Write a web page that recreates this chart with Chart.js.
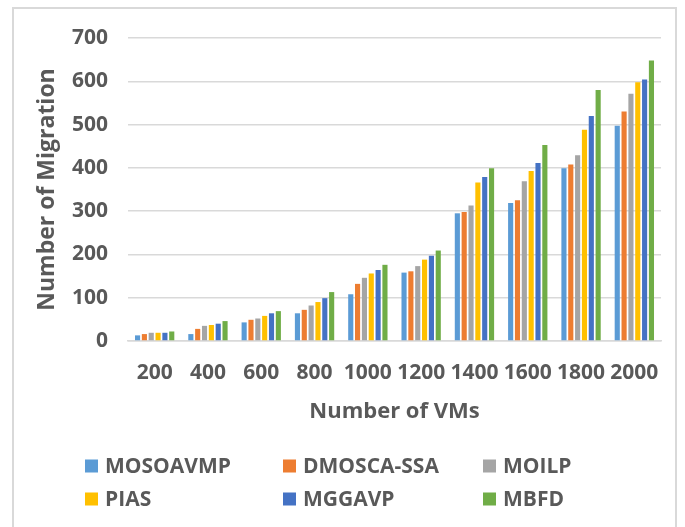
<!DOCTYPE html>
<html>
<head>
<meta charset="utf-8">
<script src="https://cdn.jsdelivr.net/npm/chart.js@4/dist/chart.umd.min.js"></script>
<style>
  html, body { margin: 0; padding: 0; background: #fff; overflow: hidden; }
  #wrap { position: relative; width: 685px; height: 527px; }
  #frame {
    position: absolute; left: 12px; top: 7px; width: 665px; height: 560px;
    border: 2px solid #d9d9d9; box-sizing: border-box;
  }
  #chart { position: absolute; left: 0; top: 0; }
</style>
</head>
<body>
<div id="wrap">
  <div id="frame"></div>
  <canvas id="chart" width="685" height="527"></canvas>
</div>
<script>
const vmCounts = ["200", "400", "600", "800", "1000", "1200", "1400", "1600", "1800", "2000"];

const mosoavmp  = [13, 16, 43, 64, 108, 158, 295, 319, 399, 497];
const dmoscaSsa = [16, 28, 49, 72, 132, 161, 298, 325, 408, 530];
const moilp     = [19, 35, 52, 82, 146, 173, 313, 369, 429, 571];
const pias      = [19, 37, 58, 90, 156, 188, 366, 393, 488, 598];
const mggavp    = [19, 40, 64, 99, 164, 197, 379, 411, 520, 604];
const mbfd      = [22, 46, 69, 113, 176, 209, 399, 453, 580, 648];

const seriesNames = ["MOSOAVMP", "DMOSCA-SSA", "MOILP", "PIAS", "MGGAVP", "MBFD"];
const seriesColors = ["#5B9BD5", "#ED7D31", "#A5A5A5", "#FFC000", "#4472C4", "#70AD47"];
const seriesValues = [mosoavmp, dmoscaSsa, moilp, pias, mggavp, mbfd];

const textColor = "#595959";
const fontFamily = "'Open Sans', 'Noto Sans', sans-serif";

// legend laid out as a 3-column grid below the axis title
const gridLegend = {
  id: "gridLegend",
  afterDraw(chart) {
    const ctx = chart.ctx;
    const cols = [85, 283, 483];
    const rows = [466, 499];
    ctx.save();
    ctx.font = "bold 21px " + fontFamily;
    ctx.textBaseline = "middle";
    ctx.textAlign = "left";
    chart.data.datasets.forEach((ds, i) => {
      const x = cols[i % 3];
      const y = rows[Math.floor(i / 3)];
      ctx.fillStyle = ds.backgroundColor;
      ctx.fillRect(x, y - 6.5, 13, 13);
      ctx.fillStyle = textColor;
      ctx.fillText(ds.label, x + 20, y + 1);
    });
    ctx.restore();
  }
};

new Chart(document.getElementById("chart"), {
  type: "bar",
  data: {
    labels: vmCounts,
    datasets: seriesNames.map((name, i) => ({
      label: name,
      data: seriesValues[i],
      backgroundColor: seriesColors[i],
      borderWidth: 0,
      categoryPercentage: 0.77,
      barPercentage: 0.75,
    })),
  },
  options: {
    responsive: false,
    animation: false,
    layout: { padding: { left: 34, top: 38, right: 24, bottom: 102 } },
    plugins: {
      legend: { display: false },
      tooltip: { enabled: false },
    },
    scales: {
      x: {
        grid: { display: false },
        border: { display: true, color: "#d9d9d9", width: 1.5 },
        ticks: {
          color: textColor,
          font: { family: fontFamily, size: 21, weight: "bold" },
          padding: 11,
          maxRotation: 0,
          autoSkip: false,
        },
        title: {
          display: true,
          text: "Number of VMs",
          color: textColor,
          font: { family: fontFamily, size: 22, weight: "bold" },
          padding: { top: 0, bottom: 0 },
        },
        afterFit(scale) { scale.height = 84; },
      },
      y: {
        min: 0,
        max: 700,
        grid: { color: "#d9d9d9", lineWidth: 1.5, drawTicks: false },
        border: { display: false },
        ticks: {
          stepSize: 100,
          color: textColor,
          font: { family: fontFamily, size: 21, weight: "bold" },
          padding: 20,
        },
        title: {
          display: true,
          text: "Number of Migration",
          color: textColor,
          font: { family: fontFamily, size: 23, weight: "bold" },
          padding: { top: 0, bottom: 0 },
        },
        afterFit(scale) { scale.width = 94; },
      },
    },
  },
  plugins: [gridLegend],
});
</script>
</body>
</html>
